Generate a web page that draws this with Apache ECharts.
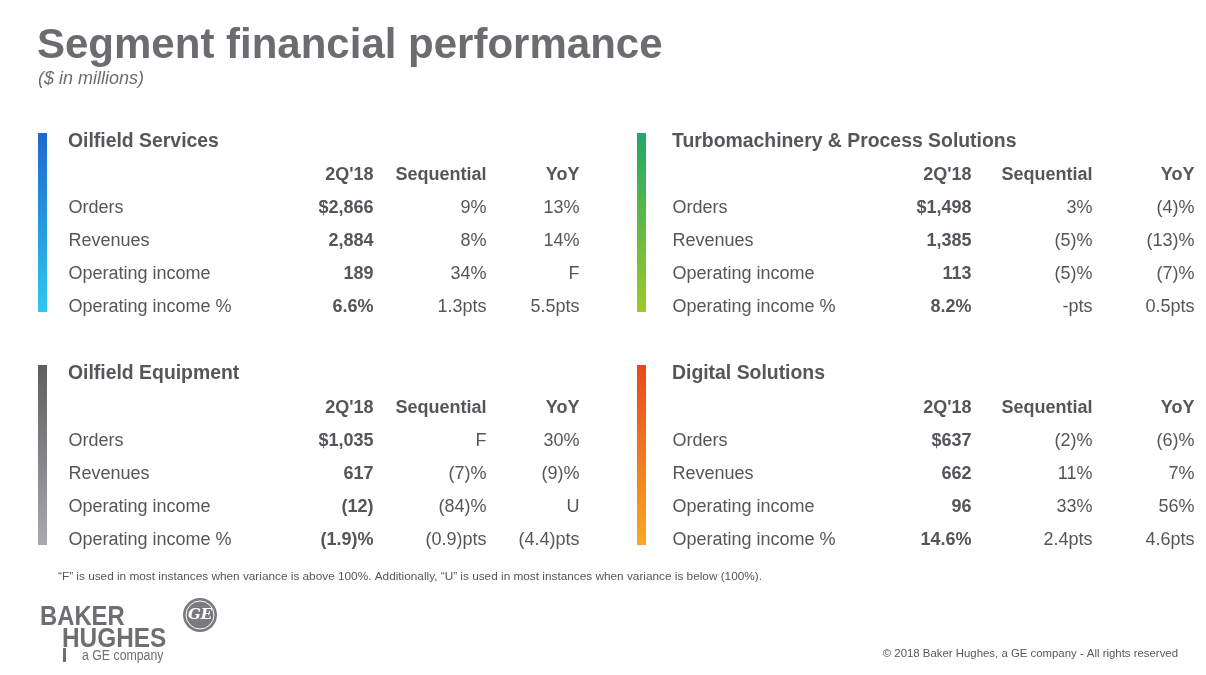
<!DOCTYPE html>
<html><head><meta charset="utf-8">
<script src="https://cdn.jsdelivr.net/npm/echarts@6/dist/echarts.min.js"></script>
<style>html,body{margin:0;padding:0;background:#fff}#c{width:1206px;height:675px}</style>
</head><body><div id="c"></div>
<script>
// ---------- data ----------
const segments = ['Oilfield Services', 'Turbomachinery & Process Solutions', 'Oilfield Equipment', 'Digital Solutions'];
const columns = ["2Q'18", 'Sequential', 'YoY'];
const metrics = ['Orders', 'Revenues', 'Operating income', 'Operating income %'];

const ofsQ   = ['$2,866', '2,884', '189', '6.6%'];
const ofsSeq = ['9%', '8%', '34%', '1.3pts'];
const ofsYoY = ['13%', '14%', 'F', '5.5pts'];

const tpsQ   = ['$1,498', '1,385', '113', '8.2%'];
const tpsSeq = ['3%', '(5)%', '(5)%', '-pts'];
const tpsYoY = ['(4)%', '(13)%', '(7)%', '0.5pts'];

const ofeQ   = ['$1,035', '617', '(12)', '(1.9)%'];
const ofeSeq = ['F', '(7)%', '(84)%', '(0.9)pts'];
const ofeYoY = ['30%', '(9)%', 'U', '(4.4)pts'];

const dsQ    = ['$637', '662', '96', '14.6%'];
const dsSeq  = ['(2)%', '11%', '33%', '2.4pts'];
const dsYoY  = ['(6)%', '7%', '56%', '4.6pts'];

const segmentValues = [
  [ofsQ, ofsSeq, ofsYoY],
  [tpsQ, tpsSeq, tpsYoY],
  [ofeQ, ofeSeq, ofeYoY],
  [dsQ, dsSeq, dsYoY]
];

// ---------- layout / style ----------
const FONT = '"Liberation Sans", Arial, Helvetica, sans-serif';
const TXT = '#55565a';
const panels = [
  {labelX: 68,  rights: [374, 487, 580],   top: 158.5, barX: 38,  barTop: 133, barBot: 312, c1: '#1f68d0', c2: '#2ec8f0'},
  {labelX: 672, rights: [972, 1093, 1195], top: 158.5, barX: 637, barTop: 133, barBot: 312, c1: '#22a767', c2: '#9dc92a'},
  {labelX: 68,  rights: [374, 487, 580],   top: 391.5, barX: 38,  barTop: 365, barBot: 545, c1: '#5e5e60', c2: '#a9a9ae'},
  {labelX: 672, rights: [972, 1093, 1195], top: 391.5, barX: 637, barTop: 365, barBot: 545, c1: '#e8491e', c2: '#f7a924'}
];
const ROW_H = 33;
const rowCats = ['header'].concat(metrics);

const grids = [], xAxes = [], yAxes = [], series = [], titles = [], graphics = [];

titles.push({text: 'Segment financial performance', left: 37, top: 25, padding: 0,
  textStyle: {fontFamily: FONT, fontSize: 42, fontWeight: 'bold', color: '#6b6c70'}});
titles.push({text: '($ in millions)', left: 38, top: 70, padding: 0,
  textStyle: {fontFamily: FONT, fontSize: 18, fontStyle: 'italic', fontWeight: 'normal', color: '#6b6c70'}});

panels.forEach((p, pi) => {
  titles.push({text: segments[pi], left: p.labelX, top: p.barTop - 1, padding: 0,
    textStyle: {fontFamily: FONT, fontSize: 19.4, fontWeight: 'bold', color: TXT}});
  graphics.push({type: 'rect', shape: {x: p.barX, y: p.barTop, width: 9, height: p.barBot - p.barTop},
    style: {fill: new echarts.graphic.LinearGradient(0, 0, 0, 1, [{offset: 0, color: p.c1}, {offset: 1, color: p.c2}])}});

  const cols = [{kind: 'label'}].concat(columns.map((c, ci) => ({kind: 'val', ci})));
  cols.forEach((col) => {
    const gi = grids.length;
    let left, width;
    if (col.kind === 'label') { left = p.labelX; width = 200; }
    else { width = 90; left = p.rights[col.ci] - width; }
    grids.push({left: left, width: width, top: p.top, height: ROW_H * rowCats.length, containLabel: false});
    xAxes.push({type: 'value', gridIndex: gi, min: 0, max: 1, show: false});
    yAxes.push({type: 'category', gridIndex: gi, data: rowCats, inverse: true, show: false});
    let data;
    if (col.kind === 'label') {
      data = metrics.map((m, ri) => ({value: [0, ri + 1, m]}));
    } else {
      const vals = segmentValues[pi][col.ci];
      data = [{value: [1, 0, columns[col.ci]], label: {fontWeight: 'bold'}}].concat(
        vals.map((v, ri) => ({value: [1, ri + 1, v], label: {fontWeight: col.ci === 0 ? 'bold' : 'normal'}})));
    }
    series.push({
      type: 'scatter', xAxisIndex: gi, yAxisIndex: gi, symbolSize: 1,
      itemStyle: {color: 'rgba(255,255,255,0)', opacity: 1}, silent: true, animation: false,
      label: {show: true, position: col.kind === 'label' ? 'right' : 'left', distance: 0,
        fontFamily: FONT, fontSize: 18, color: TXT, opacity: 1,
        formatter: (prm) => prm.value[2]},
      data: data
    });
  });
});

// footnote & copyright
graphics.push({type: 'text', left: 58, top: 571, style: {text: '\u201CF\u201D is used in most instances when variance is above 100%. Additionally, \u201CU\u201D is used in most instances when variance is below (100%).',
  font: '11.8px ' + FONT, fill: TXT}});
graphics.push({type: 'text', right: 28, top: 648, style: {text: '\u00A9 2018 Baker Hughes, a GE company - All rights reserved',
  font: '11.4px ' + FONT, fill: TXT}});
// logo
const LOGO = '#6d6e71';
graphics.push({type: 'text', x: 40, y: 603, scaleX: 0.85, style: {text: 'BAKER', font: 'bold 28px "Liberation Sans", Arial', fill: LOGO}});
graphics.push({type: 'text', x: 62, y: 625, scaleX: 0.87, style: {text: 'HUGHES', font: 'bold 28px "Liberation Sans", Arial', fill: LOGO}});
graphics.push({type: 'rect', shape: {x: 63, y: 648, width: 3, height: 14}, style: {fill: LOGO}});
graphics.push({type: 'text', x: 82, y: 649, scaleX: 0.88, style: {text: 'a GE company', font: '14px "Liberation Sans", Arial', fill: LOGO}});
graphics.push({type: 'circle', shape: {cx: 200, cy: 615, r: 17}, style: {fill: '#7a7b7e'}});
graphics.push({type: 'circle', shape: {cx: 200, cy: 615, r: 14}, style: {fill: 'none', stroke: '#fff', lineWidth: 1}});
graphics.push({type: 'text', x: 200, y: 615, style: {text: 'GE', font: 'italic bold 15px "DejaVu Serif", serif', fill: '#fff', align: 'center', verticalAlign: 'middle'}});

const chart = echarts.init(document.getElementById('c'), null, {renderer: 'canvas'});
chart.setOption({
  backgroundColor: '#ffffff',
  animation: false,
  title: titles,
  grid: grids,
  xAxis: xAxes,
  yAxis: yAxes,
  series: series,
  graphic: graphics
});
</script></body></html>
